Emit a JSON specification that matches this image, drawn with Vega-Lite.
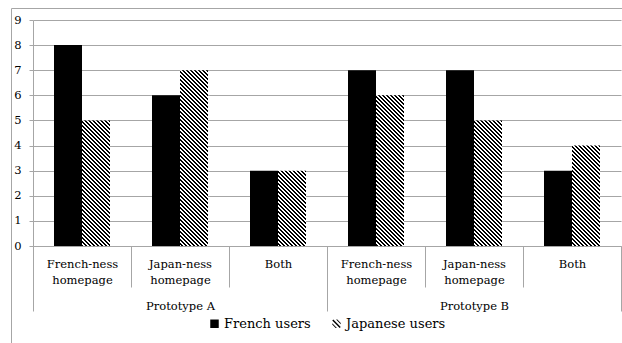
{
  "$schema": "https://vega.github.io/schema/vega-lite/v6.json",
  "width": 588,
  "height": 226,
  "autosize": "none",
  "padding": {"left": 33, "top": 20, "right": 1, "bottom": 97},
  "background": "#ffffff",
  "config": {
    "view": {"stroke": null},
    "font": "DejaVu Serif",
    "axis": {"labelFont": "DejaVu Serif", "labelColor": "#000000", "labelFontSize": 11.5},
    "legend": {"labelFont": "DejaVu Serif"},
    "axisY": {"domainColor": "#a6a6a6", "tickColor": "#a6a6a6", "gridColor": "#a6a6a6", "tickSize": 4, "labelPadding": 8, "domainWidth": 1, "gridWidth": 1}
  },
  "data": {
    "values": [
      {"prototype": "Prototype A", "slot": "A French-ness homepage", "users": "French users", "value": 8},
      {"prototype": "Prototype A", "slot": "A French-ness homepage", "users": "Japanese users", "value": 5},
      {"prototype": "Prototype A", "slot": "A Japan-ness homepage", "users": "French users", "value": 6},
      {"prototype": "Prototype A", "slot": "A Japan-ness homepage", "users": "Japanese users", "value": 7},
      {"prototype": "Prototype A", "slot": "A Both", "users": "French users", "value": 3},
      {"prototype": "Prototype A", "slot": "A Both", "users": "Japanese users", "value": 3},
      {"prototype": "Prototype B", "slot": "B French-ness homepage", "users": "French users", "value": 7},
      {"prototype": "Prototype B", "slot": "B French-ness homepage", "users": "Japanese users", "value": 6},
      {"prototype": "Prototype B", "slot": "B Japan-ness homepage", "users": "French users", "value": 7},
      {"prototype": "Prototype B", "slot": "B Japan-ness homepage", "users": "Japanese users", "value": 5},
      {"prototype": "Prototype B", "slot": "B Both", "users": "French users", "value": 3},
      {"prototype": "Prototype B", "slot": "B Both", "users": "Japanese users", "value": 4}
    ]
  },
  "layer": [
    {
      "layer": [
        {
          "transform": [{"filter": "datum.users === 'French users'"}],
          "mark": {"type": "bar", "fill": "#000000"},
          "encoding": {
            "x": {"field": "slot", "type": "nominal", "sort": null, "scale": {"paddingInner": 0, "paddingOuter": 0},
              "axis": {"title": null, "orient": "bottom", "tickBand": "extent", "tickSize": 41, "tickColor": "#a6a6a6", "domainColor": "#a6a6a6", "labelAngle": 0, "labelPadding": -29, "labelLineHeight": 16, "labelOverlap": false, "labelBaseline": "top", "labelExpr": "split(substring(datum.label, 2), ' ')"}},
            "xOffset": {"field": "users", "type": "nominal", "scale": {"domain": ["French users", "Japanese users"], "paddingInner": 0, "paddingOuter": 0.75}},
            "y": {"field": "value", "type": "quantitative", "scale": {"domain": [0, 9], "nice": false}, "axis": {"title": null, "values": [0, 1, 2, 3, 4, 5, 6, 7, 8, 9]}}
          }
        },
        {
          "transform": [{"filter": "datum.users === 'Japanese users'"}],
          "mark": {
            "type": "bar", "clip": true, "y2Offset": 222,
            "fill": {
              "gradient": "linear", "x1": 0, "y1": 1, "x2": 0.13981, "y2": -0.10849,
              "stops": [
                {"offset": 0.16, "color": "#000"},
                {"offset": 0.168, "color": "#000"}, {"offset": 0.168, "color": "#fff"},
                {"offset": 0.176, "color": "#fff"}, {"offset": 0.176, "color": "#000"},
                {"offset": 0.184, "color": "#000"}, {"offset": 0.184, "color": "#fff"},
                {"offset": 0.192, "color": "#fff"}, {"offset": 0.192, "color": "#000"},
                {"offset": 0.2, "color": "#000"}, {"offset": 0.2, "color": "#fff"},
                {"offset": 0.208, "color": "#fff"}, {"offset": 0.208, "color": "#000"},
                {"offset": 0.216, "color": "#000"}, {"offset": 0.216, "color": "#fff"},
                {"offset": 0.224, "color": "#fff"}, {"offset": 0.224, "color": "#000"},
                {"offset": 0.232, "color": "#000"}, {"offset": 0.232, "color": "#fff"},
                {"offset": 0.24, "color": "#fff"}, {"offset": 0.24, "color": "#000"},
                {"offset": 0.248, "color": "#000"}, {"offset": 0.248, "color": "#fff"},
                {"offset": 0.256, "color": "#fff"}, {"offset": 0.256, "color": "#000"},
                {"offset": 0.264, "color": "#000"}, {"offset": 0.264, "color": "#fff"},
                {"offset": 0.272, "color": "#fff"}, {"offset": 0.272, "color": "#000"},
                {"offset": 0.28, "color": "#000"}, {"offset": 0.28, "color": "#fff"},
                {"offset": 0.288, "color": "#fff"}, {"offset": 0.288, "color": "#000"},
                {"offset": 0.296, "color": "#000"}, {"offset": 0.296, "color": "#fff"},
                {"offset": 0.304, "color": "#fff"}, {"offset": 0.304, "color": "#000"},
                {"offset": 0.312, "color": "#000"}, {"offset": 0.312, "color": "#fff"},
                {"offset": 0.32, "color": "#fff"}, {"offset": 0.32, "color": "#000"},
                {"offset": 0.328, "color": "#000"}, {"offset": 0.328, "color": "#fff"},
                {"offset": 0.336, "color": "#fff"}, {"offset": 0.336, "color": "#000"},
                {"offset": 0.344, "color": "#000"}, {"offset": 0.344, "color": "#fff"},
                {"offset": 0.352, "color": "#fff"}, {"offset": 0.352, "color": "#000"},
                {"offset": 0.36, "color": "#000"}, {"offset": 0.36, "color": "#fff"},
                {"offset": 0.368, "color": "#fff"}, {"offset": 0.368, "color": "#000"},
                {"offset": 0.376, "color": "#000"}, {"offset": 0.376, "color": "#fff"},
                {"offset": 0.384, "color": "#fff"}, {"offset": 0.384, "color": "#000"},
                {"offset": 0.392, "color": "#000"}, {"offset": 0.392, "color": "#fff"},
                {"offset": 0.4, "color": "#fff"}, {"offset": 0.4, "color": "#000"},
                {"offset": 0.408, "color": "#000"}, {"offset": 0.408, "color": "#fff"},
                {"offset": 0.416, "color": "#fff"}, {"offset": 0.416, "color": "#000"},
                {"offset": 0.424, "color": "#000"}, {"offset": 0.424, "color": "#fff"},
                {"offset": 0.432, "color": "#fff"}, {"offset": 0.432, "color": "#000"},
                {"offset": 0.44, "color": "#000"}, {"offset": 0.44, "color": "#fff"},
                {"offset": 0.448, "color": "#fff"}, {"offset": 0.448, "color": "#000"},
                {"offset": 0.456, "color": "#000"}, {"offset": 0.456, "color": "#fff"},
                {"offset": 0.464, "color": "#fff"}, {"offset": 0.464, "color": "#000"},
                {"offset": 0.472, "color": "#000"}, {"offset": 0.472, "color": "#fff"},
                {"offset": 0.48, "color": "#fff"}, {"offset": 0.48, "color": "#000"},
                {"offset": 0.488, "color": "#000"}, {"offset": 0.488, "color": "#fff"},
                {"offset": 0.496, "color": "#fff"}, {"offset": 0.496, "color": "#000"},
                {"offset": 0.504, "color": "#000"}, {"offset": 0.504, "color": "#fff"},
                {"offset": 0.512, "color": "#fff"}, {"offset": 0.512, "color": "#000"},
                {"offset": 0.52, "color": "#000"}, {"offset": 0.52, "color": "#fff"},
                {"offset": 0.528, "color": "#fff"}, {"offset": 0.528, "color": "#000"},
                {"offset": 0.536, "color": "#000"}, {"offset": 0.536, "color": "#fff"},
                {"offset": 0.544, "color": "#fff"}, {"offset": 0.544, "color": "#000"},
                {"offset": 0.552, "color": "#000"}, {"offset": 0.552, "color": "#fff"},
                {"offset": 0.56, "color": "#fff"}, {"offset": 0.56, "color": "#000"},
                {"offset": 0.568, "color": "#000"}, {"offset": 0.568, "color": "#fff"},
                {"offset": 0.576, "color": "#fff"}, {"offset": 0.576, "color": "#000"},
                {"offset": 0.584, "color": "#000"}, {"offset": 0.584, "color": "#fff"},
                {"offset": 0.592, "color": "#fff"}, {"offset": 0.592, "color": "#000"},
                {"offset": 0.6, "color": "#000"}, {"offset": 0.6, "color": "#fff"},
                {"offset": 0.608, "color": "#fff"}, {"offset": 0.608, "color": "#000"},
                {"offset": 0.616, "color": "#000"}, {"offset": 0.616, "color": "#fff"},
                {"offset": 0.624, "color": "#fff"}, {"offset": 0.624, "color": "#000"},
                {"offset": 0.632, "color": "#000"}, {"offset": 0.632, "color": "#fff"},
                {"offset": 0.64, "color": "#fff"}, {"offset": 0.64, "color": "#000"},
                {"offset": 0.648, "color": "#000"}, {"offset": 0.648, "color": "#fff"},
                {"offset": 0.656, "color": "#fff"}, {"offset": 0.656, "color": "#000"},
                {"offset": 0.664, "color": "#000"}, {"offset": 0.664, "color": "#fff"},
                {"offset": 0.672, "color": "#fff"}, {"offset": 0.672, "color": "#000"},
                {"offset": 0.68, "color": "#000"}, {"offset": 0.68, "color": "#fff"},
                {"offset": 0.688, "color": "#fff"}, {"offset": 0.688, "color": "#000"},
                {"offset": 0.696, "color": "#000"}, {"offset": 0.696, "color": "#fff"},
                {"offset": 0.704, "color": "#fff"}, {"offset": 0.704, "color": "#000"},
                {"offset": 0.712, "color": "#000"}, {"offset": 0.712, "color": "#fff"},
                {"offset": 0.72, "color": "#fff"}, {"offset": 0.72, "color": "#000"},
                {"offset": 0.728, "color": "#000"}, {"offset": 0.728, "color": "#fff"},
                {"offset": 0.736, "color": "#fff"}, {"offset": 0.736, "color": "#000"},
                {"offset": 0.744, "color": "#000"}, {"offset": 0.744, "color": "#fff"},
                {"offset": 0.752, "color": "#fff"}, {"offset": 0.752, "color": "#000"},
                {"offset": 0.76, "color": "#000"}, {"offset": 0.76, "color": "#fff"},
                {"offset": 0.768, "color": "#fff"}, {"offset": 0.768, "color": "#000"},
                {"offset": 0.776, "color": "#000"}, {"offset": 0.776, "color": "#fff"},
                {"offset": 0.784, "color": "#fff"}, {"offset": 0.784, "color": "#000"},
                {"offset": 0.792, "color": "#000"}, {"offset": 0.792, "color": "#fff"},
                {"offset": 0.8, "color": "#fff"}, {"offset": 0.8, "color": "#000"},
                {"offset": 0.808, "color": "#000"}, {"offset": 0.808, "color": "#fff"},
                {"offset": 0.816, "color": "#fff"}, {"offset": 0.816, "color": "#000"},
                {"offset": 0.824, "color": "#000"}, {"offset": 0.824, "color": "#fff"},
                {"offset": 0.832, "color": "#fff"}, {"offset": 0.832, "color": "#000"},
                {"offset": 0.84, "color": "#000"}, {"offset": 0.84, "color": "#fff"},
                {"offset": 0.848, "color": "#fff"}, {"offset": 0.848, "color": "#000"},
                {"offset": 0.856, "color": "#000"}, {"offset": 0.856, "color": "#fff"},
                {"offset": 0.864, "color": "#fff"}, {"offset": 0.864, "color": "#000"},
                {"offset": 0.872, "color": "#000"}, {"offset": 0.872, "color": "#fff"},
                {"offset": 0.88, "color": "#fff"}, {"offset": 0.88, "color": "#000"},
                {"offset": 0.888, "color": "#000"}, {"offset": 0.888, "color": "#fff"},
                {"offset": 0.896, "color": "#fff"}, {"offset": 0.896, "color": "#000"},
                {"offset": 0.904, "color": "#000"}, {"offset": 0.904, "color": "#fff"},
                {"offset": 0.912, "color": "#fff"}, {"offset": 0.912, "color": "#000"},
                {"offset": 0.92, "color": "#000"}, {"offset": 0.92, "color": "#fff"},
                {"offset": 0.928, "color": "#fff"}, {"offset": 0.928, "color": "#000"},
                {"offset": 0.936, "color": "#000"}, {"offset": 0.936, "color": "#fff"},
                {"offset": 0.944, "color": "#fff"}, {"offset": 0.944, "color": "#000"},
                {"offset": 0.952, "color": "#000"}, {"offset": 0.952, "color": "#fff"},
                {"offset": 0.96, "color": "#fff"}, {"offset": 0.96, "color": "#000"},
                {"offset": 0.968, "color": "#000"}, {"offset": 0.968, "color": "#fff"},
                {"offset": 0.976, "color": "#fff"}, {"offset": 0.976, "color": "#000"},
                {"offset": 0.984, "color": "#000"}, {"offset": 0.984, "color": "#fff"},
                {"offset": 0.992, "color": "#fff"}, {"offset": 0.992, "color": "#000"},
                {"offset": 1, "color": "#000"}
              ]
            }
          },
          "encoding": {
            "x": {"field": "slot", "type": "nominal", "sort": null, "scale": {"paddingInner": 0, "paddingOuter": 0},
              "axis": {"title": null, "orient": "bottom", "tickBand": "extent", "tickSize": 41, "tickColor": "#a6a6a6", "domainColor": "#a6a6a6", "labelAngle": 0, "labelPadding": -29, "labelLineHeight": 16, "labelOverlap": false, "labelBaseline": "top", "labelExpr": "split(substring(datum.label, 2), ' ')"}},
            "xOffset": {"field": "users", "type": "nominal", "scale": {"domain": ["French users", "Japanese users"], "paddingInner": 0, "paddingOuter": 0.75}},
            "y": {"field": "value", "type": "quantitative", "scale": {"domain": [0, 9], "nice": false}, "axis": {"title": null, "values": [0, 1, 2, 3, 4, 5, 6, 7, 8, 9]}},
            "y2": {"field": "value"}
          }
        }
      ]
    },
    {
      "mark": {"type": "point", "filled": true, "opacity": 0, "color": "#000000"},
      "encoding": {
        "x": {"field": "prototype", "type": "nominal", "scale": {"paddingInner": 0, "paddingOuter": 0},
          "axis": {"title": null, "orient": "bottom", "tickBand": "extent", "tickSize": 65, "tickColor": "#a6a6a6", "domain": false, "labelAngle": 0, "labelPadding": -11, "labelBaseline": "top"}},
        "y": {"field": "value", "type": "quantitative", "scale": {"domain": [0, 9], "nice": false}, "axis": null},
        "shape": {"field": "users", "type": "nominal",
          "scale": {"domain": ["French users", "Japanese users"], "range": ["square", "M-1,-0.75L-0.75,-1L1,0.75L0.75,1Z M-0.1,-1L0.2,-1L1,-0.2L1,0.1Z M-1,-0.1L-1,0.2L-0.2,1L0.1,1Z"]},
          "legend": {"title": null, "orient": "none", "legendX": 175, "legendY": 297, "direction": "horizontal",
            "labelFontSize": 13, "labelColor": "#000000", "symbolSize": 72, "columnPadding": 19, "labelOffset": 3,
            "symbolFillColor": "#000000", "symbolStrokeColor": "#000000", "symbolStrokeWidth": 0, "symbolOpacity": 1}}
      }
    },
    {
      "mark": {"type": "point", "opacity": 0},
      "encoding": {
        "x": {"field": "prototype", "type": "nominal", "scale": {"range": [-22, 590], "paddingInner": 0, "paddingOuter": 0},
          "axis": {"title": null, "orient": "top", "offset": 12, "ticks": false, "labels": false, "domainColor": "#a6a6a6"}},
        "y": {"field": "value", "type": "quantitative", "scale": {"domain": [0, 9], "nice": false, "range": [323, -12]},
          "axis": {"title": null, "orient": "left", "offset": 22, "ticks": false, "labels": false, "grid": false, "domainColor": "#a6a6a6"}}
      }
    }
  ],
  "resolve": {"scale": {"x": "independent", "y": "independent"}, "axis": {"x": "independent", "y": "independent"}}
}
